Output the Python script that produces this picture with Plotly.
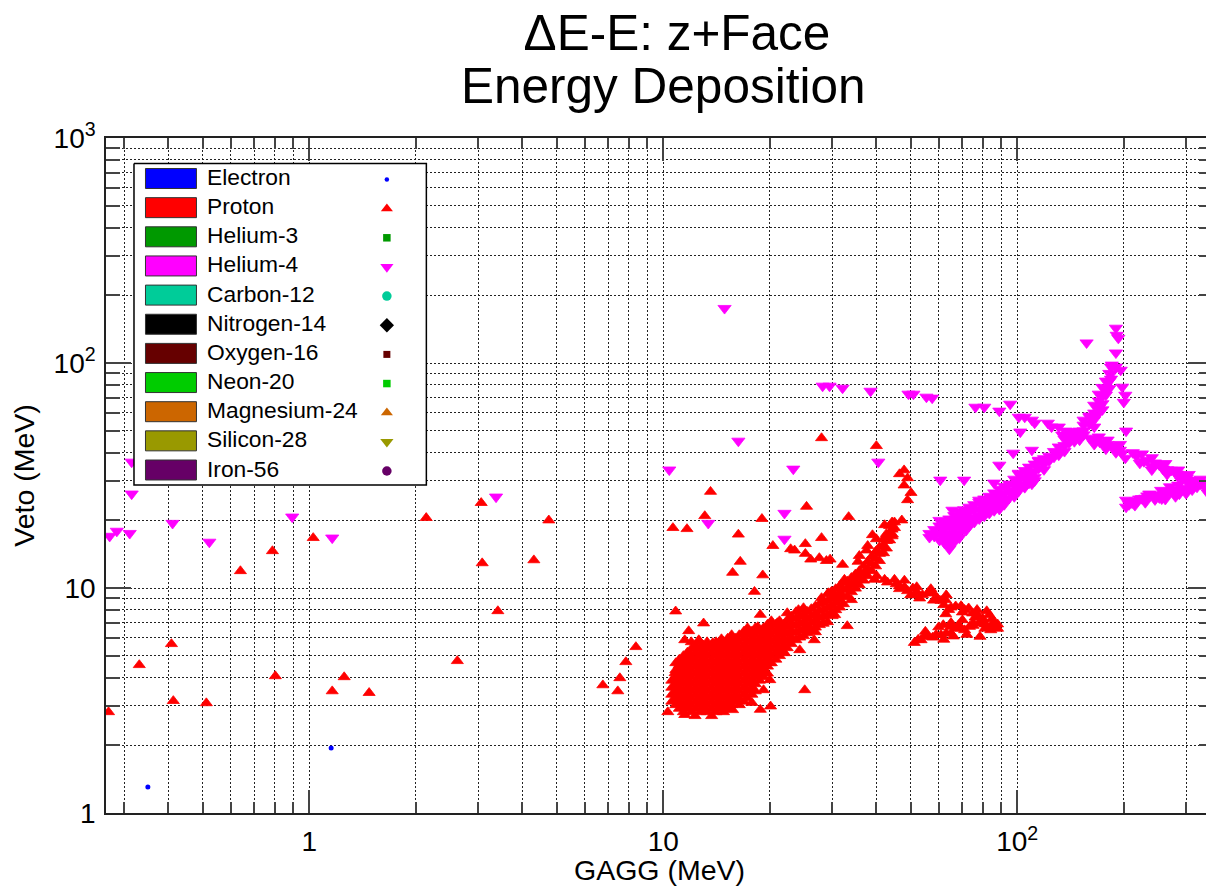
import plotly.graph_objects as go

# ---------- data (MeV) ----------
ELECTRON_X = [0.35, 1.153]
ELECTRON_Y = [1.305, 1.945]

PROTON_SPARSE_X = [0.271,0.331,0.408,0.413,0.512,0.639,0.787,0.802,1.026,1.161,1.255,1.476,2.14,2.62,3.06,3.08,3.41,4.31,4.75,
 6.75,7.44,7.54,7.84,8.37,13.6,13.1,10.65,11.67,19.0,16.3,25.4,33.4,20.4,28.0,25.2,22.9,23.5,25.2,26.1,27.6,28.9,29.6,32.1,35.5,
 16.5,15.7,19.1,18.1,10.84,18.8,13.0,11.8,33.1,30.0,25.1,20.0,19.2,20.1,18.8,17.8,47.9,50.1,49.0,47.9,46.5,49.0,28.0,40.0,47.2,39.0,40.0,37.8]
PROTON_SPARSE_Y = [2.81,4.55,5.64,3.15,3.08,11.9,14.6,4.06,16.7,3.48,4.02,3.42,20.5,4.74,23.9,12.9,7.9,13.3,20.0,
 3.7,3.48,3.98,4.69,5.47,26.8,20.9,18.5,18.3,20.3,17.3,23.0,20.7,15.4,16.7,15.7,14.9,14.7,14.2,13.4,13.6,13.2,13.4,12.7,13.1,
 13.1,11.7,11.4,9.63,7.88,7.61,6.97,6.44,6.78,7.51,3.52,3.9,3.52,2.98,2.88,3.09,28.6,26.5,24.6,33.4,32.1,30.8,46.4,42.8,20.0,17.2,16.5,15.4]

PROTON_EDGE_X = [11.5,12.6,13.8,14.6,15.6,17,18.5,20.1,21,24.1,28,29.3,32.5,25.6,26.9,22,20,18.7,15.7,13.7,12.3,11.5,10.8,11.1,11.7,
 35.8,37.5,39.5,34,30.5,26.7,24.3,44.4,42.2]
PROTON_EDGE_Y = [5.87,5.87,5.7,5.93,5.7,6.37,6.71,6.99,6.99,7.99,9.03,9.5,10.9,6.5,6.37,5.14,4.64,4.23,2.87,2.7,2.7,2.73,4.19,4.55,4.94,
 13.9,14.7,10.9,8.85,7.59,5.87,5.3,17.3,19.05]

PROTON_ARM_X = [40.1,42.2,45.0,45.5,48.0,50.7,51.2,54.0,58.0,60.9,62.7,65.0,69.4,72.9,74.8,77.3,83.4,62.8,79.8,85.2,87.0,82.4,84.2,78.5,
 51.2,53.5,54.6,57.7,60.9,61.8,65.0,65.0,68.3,69.4,73.3,
 43,46.5,49,52,56,59.5,62,67,71,76,80,86,75,81,88,52.5,56,59,63,67,71,75,78,81,
 48,52,57,63,46.5,50,53,58,64,70,55,60,65,70,72,62,66,77,82,85,88]
PROTON_ARM_Y = [11.3,10.9,10.9,10.4,10.1,9.97,9.31,9.31,9.47,8.78,8.85,8.2,8.32,8.13,7.72,7.59,7.59,7.66,6.97,6.97,6.73,6.73,6.5,6.08,
 5.71,5.87,6.08,6.03,6.18,6.85,6.28,6.73,6.85,6.62,6.73,
 10.6,10.2,9.7,9.6,9.5,9.0,8.4,8.3,8.0,7.4,7.3,6.8,7.0,6.9,6.9,5.9,6.1,6.2,6.3,6.6,6.5,6.8,7.0,6.6,
 10.8,10.1,9.9,9.3,9.9,9.3,9.0,8.8,8.0,7.8,6.4,6.7,7.0,7.2,6.2,5.9,6.1,8.0,7.9,7.3,6.6]

PROTON_COLUMN_X = [10.3,10.85,11.4,12.0,12.7,13.3,14.1,14.8,15.6,16.4,17.3,18.2,19.2,20.2,21.3,
 22.4,23.7,24.9,26.2,27.6,29.1,30.7,32.3,34.0,35.8,37.8,39.8,41.9,43.6,45.0,
 10.57,11.1,11.7,12.35,13.0,13.7,14.4,15.2,16.0,16.9,17.8,18.7,19.7,20.8,21.9,
 23.0,24.3,25.5,26.9,28.3,29.9,31.5,33.1,34.9,36.8,38.8,40.8,42.7,44.3]
PROTON_COLUMN_Y = [
 [2.81],
 [3.02,3.24,3.48,3.74,4.02,4.32,4.64],
 [2.81,3.02,3.24,3.48,3.74,4.02,4.32,4.64,4.99],
 [2.81,3.02,3.24,3.48,3.74,4.02,4.32,4.64,4.99,5.36,5.75],
 [2.81,3.02,3.24,3.48,3.74,4.02,4.32,4.64,4.99,5.36,5.75],
 [2.81,3.02,3.24,3.48,3.74,4.02,4.32,4.64,4.99,5.36,5.75],
 [2.81,3.02,3.24,3.48,3.74,4.02,4.32,4.64,4.99,5.36,5.75],
 [2.81,3.02,3.24,3.48,3.74,4.02,4.32,4.64,4.99,5.36,5.75],
 [3.02,3.24,3.48,3.74,4.02,4.32,4.64,4.99,5.36,5.75,6.18],
 [3.02,3.24,3.48,3.74,4.02,4.32,4.64,4.99,5.36,5.75,6.18],
 [3.24,3.48,3.74,4.02,4.32,4.64,4.99,5.36,5.75,6.18,6.64],
 [3.48,3.74,4.02,4.32,4.64,4.99,5.36,5.75,6.18,6.64],
 [4.02,4.32,4.64,4.99,5.36,5.75,6.18,6.64],
 [4.64,4.99,5.36,5.75,6.18,6.64,7.13],
 [4.99,5.36,5.75,6.18,6.64,7.13],
 [5.41,5.81,6.25,6.71,7.2,7.74],
 [5.87,6.31,6.78,7.28,7.82],
 [6.12,6.57,7.06,7.59,8.15],
 [6.5,6.99,7.51,8.07],
 [6.85,7.36,7.9,8.49],
 [7.06,7.59,8.15,8.75,9.4],
 [7.98,8.58,9.21,9.9],
 [8.49,9.12,9.8,10.5],
 [9.6,10.3,11.1],
 [10.3,11.1,11.9],
 [11.3,12.1,13.1],
 [12.5,13.5,14.5],
 [14.3,15.4,16.5],
 [16.3,17.5,18.9],
 [18.5,19.6],
 [3.13,3.36,3.61,3.88],
 [2.91,3.13,3.36,3.61,3.88,4.17,4.48,4.81],
 [2.91,3.13,3.36,3.61,3.88,4.17,4.48,4.81,5.17],
 [2.91,3.13,3.36,3.61,3.88,4.17,4.48,4.81,5.17,5.55],
 [2.91,3.13,3.36,3.61,3.88,4.17,4.48,4.81,5.17,5.55],
 [2.91,3.13,3.36,3.61,3.88,4.17,4.48,4.81,5.17,5.55],
 [2.91,3.13,3.36,3.61,3.88,4.17,4.48,4.81,5.17,5.55],
 [2.91,3.13,3.36,3.61,3.88,4.17,4.48,4.81,5.17,5.55,5.96],
 [3.13,3.36,3.61,3.88,4.17,4.48,4.81,5.17,5.55,5.96],
 [3.13,3.36,3.61,3.88,4.17,4.48,4.81,5.17,5.55,5.96,6.41],
 [3.36,3.61,3.88,4.17,4.48,4.81,5.17,5.55,5.96,6.41],
 [3.88,4.17,4.48,4.81,5.17,5.55,5.96,6.41],
 [4.17,4.48,4.81,5.17,5.55,5.96,6.41,6.88],
 [4.81,5.17,5.55,5.96,6.41,6.88],
 [5.17,5.55,5.96,6.41,6.88],
 [5.64,6.03,6.48,6.95,7.47],
 [6.03,6.48,6.95,7.47],
 [6.3,6.8,7.3,7.85],
 [6.68,7.18,7.7,8.3],
 [6.95,7.47,8.0,8.6],
 [7.8,8.35,9.0,9.65],
 [8.2,8.85,9.5,10.2],
 [9.2,9.95,10.7],
 [9.95,10.7,11.5],
 [10.8,11.6,12.5],
 [11.9,12.8,13.8],
 [13.2,14.2,15.2],
 [15.0,16.2,17.4],
 [17.0,18.2,19.6],
]

HELIUM4_SPARSE_X = [14.9,0.315,0.315,0.273,0.286,0.311,0.411,0.522,0.895,1.161,3.37,10.4,13.4,16.3,22.0,22.0,23.3,28.2,29.5,32.1,38.5,49.3,50.9,55.4,57.5,40.5,
 60.6,70.8,89.0,97.4,110,102,95.5,89.0,80.7,76.2,157,190,191,193,190,185,196,190,198,202,200,203,
 101,105,110,112,122,125,131,134,86]
HELIUM4_SPARSE_Y = [175,36.3,26.2,17.0,17.9,17.5,19.4,16.0,20.7,16.7,25.4,33.5,19.4,45.0,21.5,16.5,33.8,79,79,77.4,75,72.8,72.8,70.6,69.9,36.3,
 30.2,30.2,35.2,39.8,41,49.4,65.7,61.2,63.7,63.7,123,143,133,129,111,98,93,96,78.2,72,67,49.9,
 57.5,57.5,55.8,54.1,54.1,52,52,47.9,29.3]

HELIUM4_EDGE_X = [65.6,60.3,78.1,101,115,137,160,64.3,71.8,89,110,131,150,167]
HELIUM4_EDGE_Y = [22.2,20,24.6,32.4,37,49.9,58.2,14.9,18.1,22.4,29,39,45.5,59.3]

HELIUM4_ARM_X = [160,167,175,185,191,198,202,217,222,233,239,252,258,272,283,296,306,318,330,341,348,352,
 203,203,211,221,230,236,247,256,263,277,287,296,312,322,154,145,
 163,171,180,188,195,212,228,245,265,278,290,301,312,324,336,
 207,216,225,233,241,252,260,270,282,304,
 170,180,195,225,240,262,285,305,330,350,165,178,190,240,265,290,315,345,
 215,230,245,262,280,300,255,270,285,305]
HELIUM4_ARM_Y = [46.4,45,44,42.8,41.9,39.8,37.8,38.6,35.9,37,34.8,35.2,33.8,33.4,32.1,31.5,30.2,29.9,29,28.1,27,28.7,
 22.9,24.6,23.9,24.9,25.1,26.2,25.6,24.9,26.4,27.3,26.2,27.8,27.3,28.1,55.8,47.4,
 45.5,44.5,43.5,42.3,41,40,36.5,36,33.6,32.8,31.8,30.8,30,29.5,28.6,
 23.5,24.4,25,25.7,26,25.2,25.6,26.9,26.8,27.5,
 47,45.5,43.5,39.5,38,35.8,33.5,32,30.5,29.5,43.5,41.5,40,33.5,32,30,28.7,26.5,
 23.3,24,24.7,24.8,25.5,26.3,27.2,28.2,28.7,29]

HELIUM4_COLUMN_X = [56.5,60.3,64.3,68.6,73.2,78.1,83.4,89,94.9,101,108,115,123,131,140,150,160,170,178,184,
 58.3,62.2,66.4,70.8,75.6,80.7,86.1,91.9,98.1,105,112,119,127,136,145,154,165,174,182]
HELIUM4_COLUMN_Y = [
 [16.8,17.5],
 [18.9,17.5,16.3],
 [20.3,18.9,17.5,16.3,15.5],
 [21.8,20.3,18.9,17.5,16.7],
 [22.9,21.8,20.3,18.9],
 [24.1,22.4,20.9,20.3],
 [25.6,23.9,22.2,21.5],
 [27.5,25.6,23.9,22.7],
 [29,27,25.1],
 [32.1,29.9,27.8,27],
 [34.5,32.1,29.9,29.3],
 [36.7,34.1],
 [38.6,36.7],
 [42.4,39.8],
 [49.4,46.4,44.1],
 [49.9,47.4],
 [57.5,53.6],
 [72.8,67.8,63.1,60],
 [83.2,77.4,72.1],
 [96,89.4,84.9],
 [17.0,18.2],
 [19.6,18.2,16.9,15.9],
 [21,19.6,18.2,16.9,16],
 [22.3,21,19.6,18.2],
 [23.5,22.1,20.6,19.6],
 [24.9,23.2,21.6,20.9],
 [26.5,24.7,23,22.1],
 [28.3,26.3,24.5,23.5],
 [30.5,28.4,26.5,25.5],
 [33.3,31,28.8,28],
 [35.6,33,31,30],
 [37.6,35.5,33.6],
 [40.5,38.2],
 [45.9,43,40.5],
 [49.6,46.9,44.8],
 [53,50,48],
 [65,60,56,52],
 [78,72,66,62],
 [90,83,77],
]

LEGEND_NAMES = ["Electron","Proton","Helium-3","Helium-4","Carbon-12","Nitrogen-14","Oxygen-16","Neon-20","Magnesium-24","Silicon-28","Iron-56"]
LEGEND_COLORS = ["#0000ff","#ff0000","#009900","#ff00ff","#00cc99","#000000","#660000","#00cc00","#cc6600","#999900","#660066"]
LEGEND_SYMBOLS = ["circle","triangle-up","square","triangle-down","circle","diamond","square","square","triangle-up","triangle-down","circle"]
LEGEND_SIZES = [4.5,10.5,7.5,11.5,9.5,11,7,7.5,10.5,11.5,9.5]

X_MAJOR = [1, 10, 100]
X_LABELS = ["1", "10", "10<sup>2</sup>"]
Y_MAJOR = [1, 10, 100, 1000]
Y_LABELS = ["1", "10", "10<sup>2</sup>", "10<sup>3</sup>"]
X_MINOR = [0.3,0.4,0.5,0.6,0.7,0.8,0.9,2,3,4,5,6,7,8,9,20,30,40,50,60,70,80,90,200,300]
Y_MINOR = [2,3,4,5,6,7,8,9,20,30,40,50,60,70,80,90,200,300,400,500,600,700,800,900]

# ---------- assemble ----------
def flatten(xs, cols):
    ox, oy = [], []
    for x, col in zip(xs, cols):
        for y in col:
            ox.append(x); oy.append(y)
    return ox, oy

px, py = flatten(PROTON_COLUMN_X, PROTON_COLUMN_Y)
hx, hy = flatten(HELIUM4_COLUMN_X, HELIUM4_COLUMN_Y)
FONT = "Liberation Sans"
OFF = 8            # default page margin round the figure
L, R, T, B = 105.5, 1213.0, 138.0, 813.0
W, H = 1214 - OFF, 886 - OFF

fig = go.Figure()
fig.add_trace(go.Scatter(x=ELECTRON_X, y=ELECTRON_Y, mode="markers", name="Electron",
                         marker=dict(symbol="circle", size=5, color="#0000ff")))
fig.add_trace(go.Scatter(x=PROTON_SPARSE_X+PROTON_EDGE_X+PROTON_ARM_X+px, y=PROTON_SPARSE_Y+PROTON_EDGE_Y+PROTON_ARM_Y+py, mode="markers", name="Proton",
                         marker=dict(symbol="triangle-up", size=10.5, color="#ff0000", line=dict(width=0.8, color="#ff0000"))))
fig.add_trace(go.Scatter(x=HELIUM4_SPARSE_X+HELIUM4_EDGE_X+HELIUM4_ARM_X+hx, y=HELIUM4_SPARSE_Y+HELIUM4_EDGE_Y+HELIUM4_ARM_Y+hy, mode="markers", name="Helium-4",
                         marker=dict(symbol="triangle-down", size=11.5, color="#ff00ff", line=dict(width=0.8, color="#ff00ff"))))

# legend panel on an overlay axis whose units are window pixels
def rect(x0, x1, y0, y1, fill, line, w):
    fig.add_trace(go.Scatter(x=[x0,x1,x1,x0,x0], y=[y0,y0,y1,y1,y0], xaxis="x2", yaxis="y2", mode="lines",
                             fill="toself", fillcolor=fill, line=dict(color=line, width=w), hoverinfo="skip"))
rect(133.5, 426, 163.5, 485, "#ffffff", "#000000", 1.5)
annotations = []
for i, (n, c, s, z) in enumerate(zip(LEGEND_NAMES, LEGEND_COLORS, LEGEND_SYMBOLS, LEGEND_SIZES)):
    yc = 178.5 + 29.15*i
    rect(145, 196, yc-10, yc+10, c, "#333333", 1)
    fig.add_trace(go.Scatter(x=[386.5], y=[yc+1], xaxis="x2", yaxis="y2", mode="markers",
                             marker=dict(symbol=s, size=z, color=c, line=dict(width=0)), hoverinfo="skip"))
    annotations.append(dict(x=205, y=yc-1.5, xref="x2", yref="y2", text=n, showarrow=False, xanchor="left", yanchor="middle",
                            font=dict(family=FONT, size=22.8, color="#000000")))
annotations.append(dict(x=(663-L)/(R-L), y=(B-85)/(B-T), xref="paper", yref="paper", text="Energy Deposition", showarrow=False,
                        xanchor="center", yanchor="middle", font=dict(family=FONT, size=49.5, color="#000000")))

GRID = dict(showgrid=True, gridcolor="#222222", griddash="1.5px,2.5px", gridwidth=1)
axis_common = dict(type="log", showline=True, linecolor="#222222", linewidth=1.5, mirror="ticks",
                   ticks="inside", tickwidth=1.5, tickcolor="#444444", tickmode="array",
                   zeroline=False, tickfont=dict(family=FONT, size=28, color="#000000"), automargin=False, **GRID)
MINOR_TICK = dict(tickmode="array", ticks="inside", tickwidth=1.5, tickcolor="#444444", **GRID)
fig.update_layout(
    width=W, height=H, showlegend=False, plot_bgcolor="#ffffff", paper_bgcolor="#ffffff",
    margin=dict(l=L-OFF, r=1214-R, t=T-OFF, b=886-B),
    title=dict(text="\u0394E-E: z+Face", x=(677-OFF)/W, xanchor="center", y=1-(33-OFF)/H, yanchor="middle",
               font=dict(family=FONT, size=49.5, color="#000000")),
    xaxis=dict(range=[-0.5742, 2.5530], tickvals=X_MAJOR, ticktext=X_LABELS, ticklabelstandoff=3, ticklen=23,
               title=dict(text="GAGG (MeV)", font=dict(family=FONT, size=28.5, color="#000000"), standoff=3),
               minor=dict(tickvals=X_MINOR, ticklen=11, **MINOR_TICK), **axis_common),
    yaxis=dict(range=[0, 3], tickvals=Y_MAJOR, ticktext=Y_LABELS, ticklabelstandoff=3, ticklen=25,
               title=dict(text="Veto (MeV)", font=dict(family=FONT, size=28.5, color="#000000"), standoff=14),
               minor=dict(tickvals=Y_MINOR, ticklen=14, **MINOR_TICK), **axis_common),
    xaxis2=dict(overlaying="x", range=[L, R], visible=False, fixedrange=True),
    yaxis2=dict(overlaying="y", range=[B, T], visible=False, fixedrange=True),
    annotations=annotations,
)
fig.write_html("out.html")
